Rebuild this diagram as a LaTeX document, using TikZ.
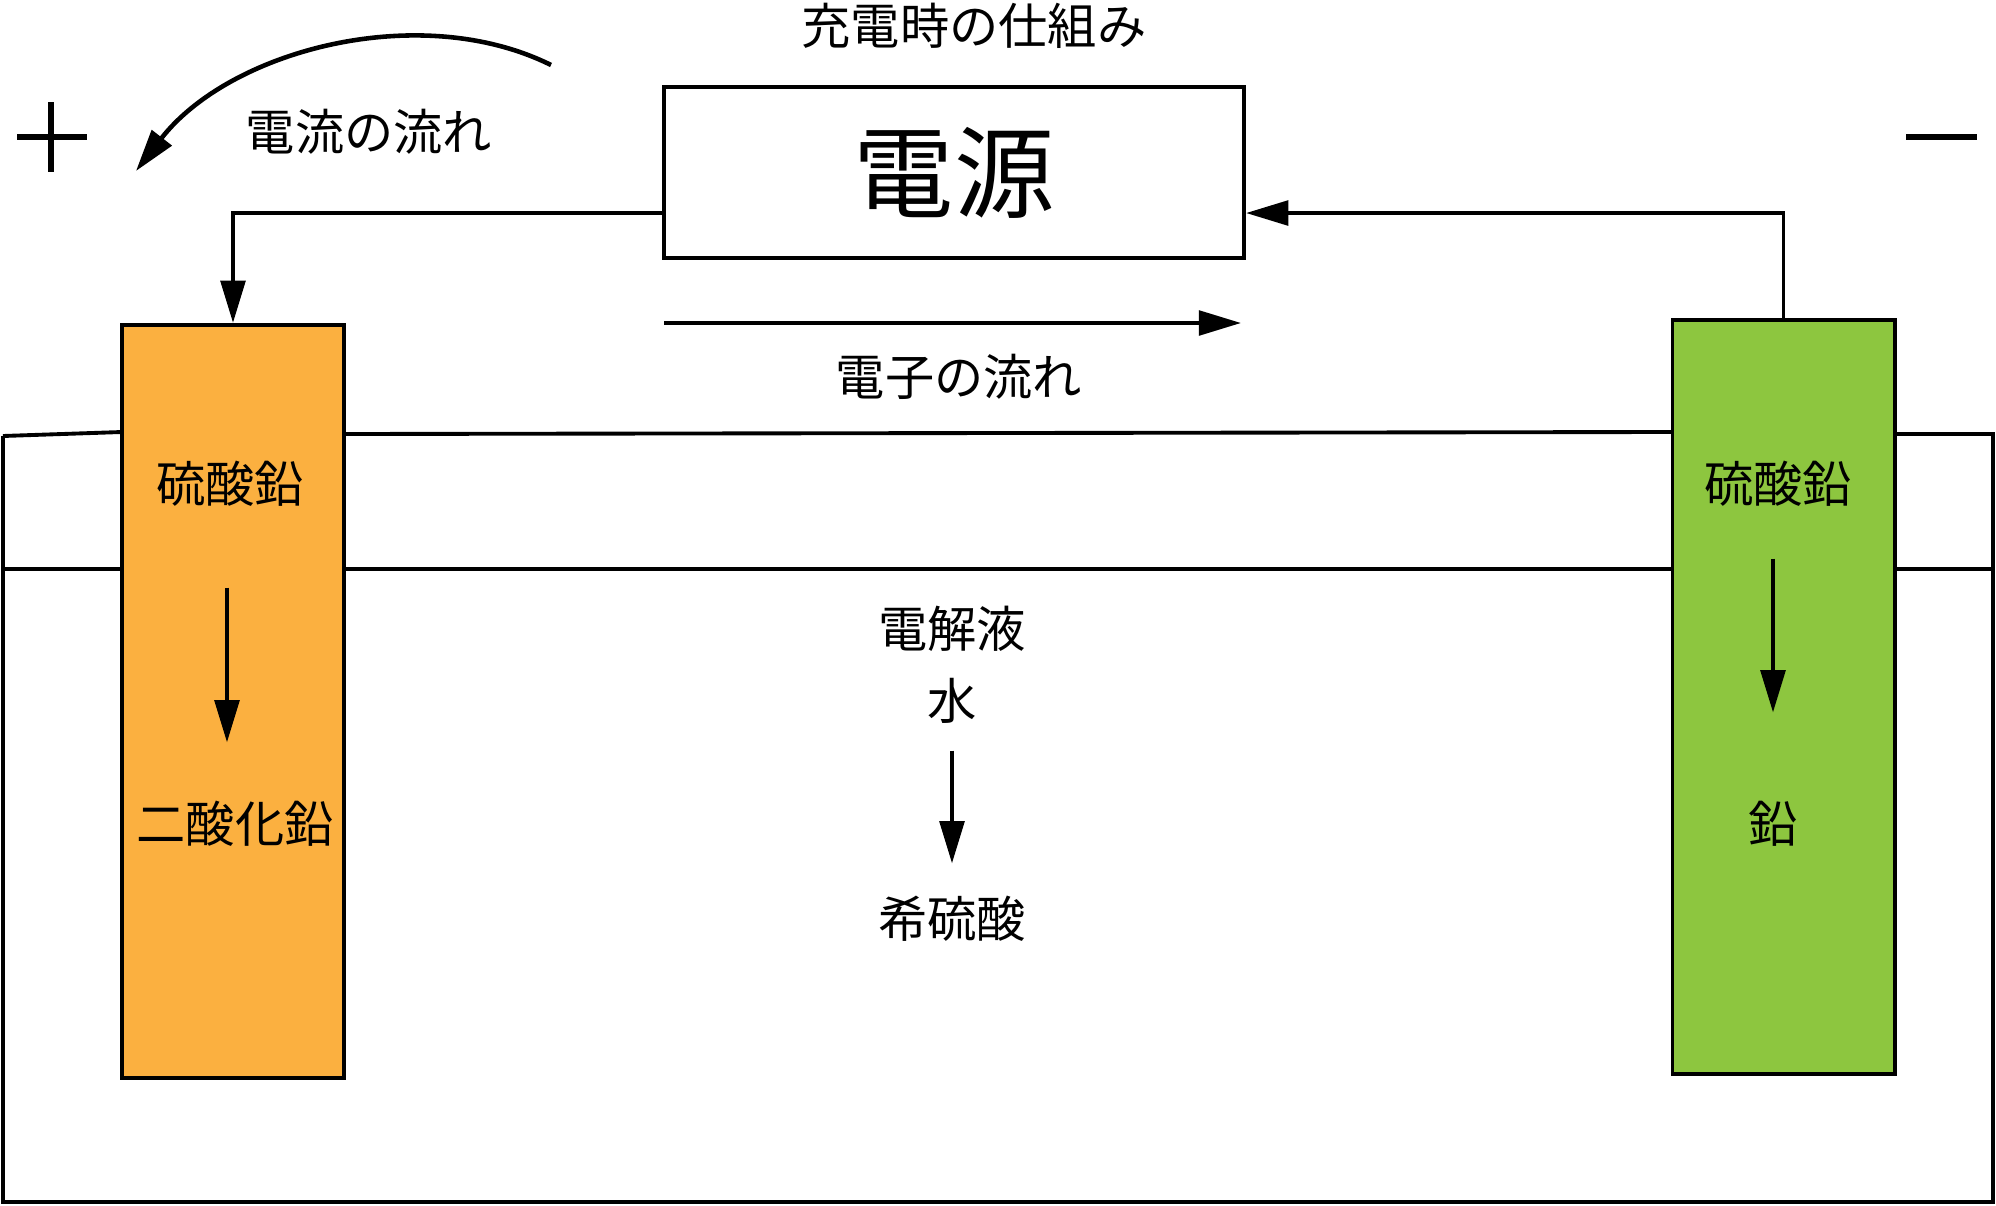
\documentclass[tikz,border=0pt]{standalone}
\usepackage[no-math]{fontspec}
\setmainfont{Noto Sans CJK JP}
\usepackage{xcolor}
\usetikzlibrary{arrows.meta,positioning,calc}

\definecolor{pbox}{RGB}{251,176,64}
\definecolor{pbgreen}{RGB}{141,198,63}

\begin{document}
\begin{tikzpicture}[x=0.01cm, y=-0.01cm, line width=1.1pt,
    >={Triangle[length=12pt,width=7pt]},
    lbl/.style={font=\fontsize{14}{16}\selectfont, inner sep=0pt},
    sign/.style={line width=1.7pt},
    electrode/.style={draw, minimum width=2.22cm, minimum height=7.53cm, inner sep=0pt}]
    \useasboundingbox (0,0) rectangle (1996,1206);

    % Cuve
    \draw (3,436) -- (122,432);
    \draw (344,434) -- (1673,432);
    \draw (1894,434) -- (1993,434) -- (1993,1202) -- (3,1202) -- (3,436);
    % Niveau du liquide
    \draw (3,569) -- (122,569);
    \draw (344,569) -- (1673,569);
    \draw (1894,569) -- (1993,569);

    % Electrodes
    \node[electrode, fill=pbox] (pos) at (233,701.5) {};
    \node[electrode, fill=pbgreen] (neg) at (1783.5,697) {};

    % Source
    \node[draw, minimum width=5.8cm, minimum height=1.71cm, inner sep=0pt] (power) at (954,172.5)
        {\fontsize{28.5}{30}\selectfont 電源};
    \node[lbl] (title) at (974,26) {充電時の仕組み};

    % Fils
    \coordinate (pl) at ([yshift=-0.405cm]power.west);
    \coordinate (pr) at ([yshift=-0.405cm]power.east);
    \draw[->] (pl) -| (pos.north);
    \draw[->] (neg.north) |- (pr);

    % Bornes
    \draw[sign] (17,137) -- (87,137) (51,102) -- (51,172);
    \draw[sign] (1906,137) -- (1977,137);

    % Sens du courant
    \coordinate (c0) at (551,65);
    \coordinate (c1) at (136,171);
    \draw[->, line width=1.3pt] (c0) .. controls (420,0) and (230,50) .. (c1);
    \node[lbl] (curr) at (369,132) {電流の流れ};

    % Sens des electrons
    \coordinate (e0) at (664,323);
    \coordinate (e1) at (1241,323);
    \draw[->] (e0) -- (e1);
    \node[lbl] (elec) at (959,377) {電子の流れ};

    % Electrode positive
    \node[lbl] (lsulf) at (230,484) {硫酸鉛};
    \node[lbl] (lox) at (235,824) {二酸化鉛};
    \draw[->, shorten <=0.79cm, shorten >=0.57cm] (lsulf.south -| 227,0) -- (lox.north -| 227,0);

    % Electrode negative
    \node[lbl] (rsulf) at (1778,484) {硫酸鉛};
    \node[lbl] (rpb) at (1773,824) {鉛};
    \draw[->, shorten <=0.5cm, shorten >=0.87cm] (rsulf.south -| rpb.north) -- (rpb.north);

    % Electrolyte
    \node[lbl] (sol) at (952,629) {電解液};
    \node[lbl] (water) at (952,701) {水};
    \node[lbl] (acid) at (952,919) {希硫酸};
    \draw[->, shorten <=0.25cm, shorten >=0.31cm] (water.south) -- (acid.north);
\end{tikzpicture}
\end{document}
